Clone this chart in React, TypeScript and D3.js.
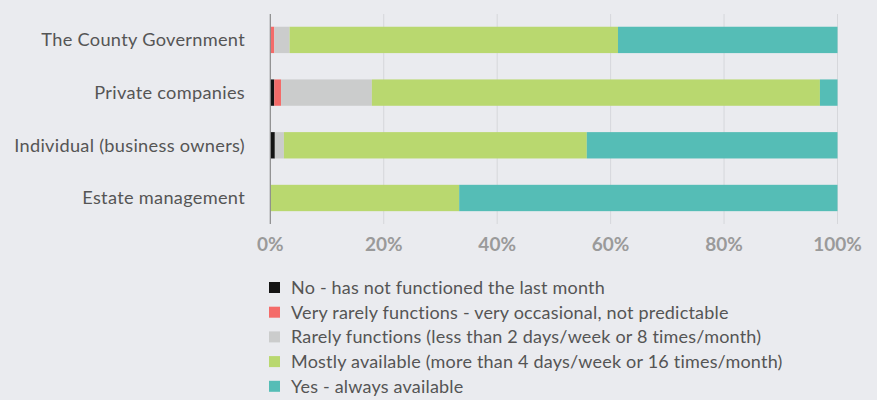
import { useEffect, useRef } from "react";
import * as d3 from "d3";

// categories (top to bottom)
const categories = [
  "The County Government",
  "Private companies",
  "Individual (business owners)",
  "Estate management",
];

// series labels, in stacking order
const seriesNames = [
  "No - has not functioned the last month",
  "Very rarely functions - very occasional, not predictable",
  "Rarely functions (less than 2 days/week or 8 times/month)",
  "Mostly available (more than 4 days/week or 16 times/month)",
  "Yes - always available",
];

// percentages per series, one value per category
const noFunction = [0, 0.7, 0.8, 0];
const veryRarely = [0.7, 1.2, 0, 0];
const rarely = [2.7, 16.0, 1.6, 0];
const mostly = [57.9, 79.0, 53.4, 33.3];
const always = [38.7, 3.1, 44.2, 66.7];

const tickValues = [0, 20, 40, 60, 80, 100];

const colors = ["#141414", "#F46B69", "#CBCCCC", "#B9D86F", "#55BDB6"];

export default function App() {
  const ref = useRef<SVGSVGElement>(null);

  useEffect(() => {
    if (!ref.current) return;
    const svg = d3.select(ref.current);
    svg.selectAll("*").remove();

    const width = 877;
    const height = 400;
    const font = "Lato, 'Noto Sans', sans-serif";

    svg.append("rect").attr("width", width).attr("height", height).attr("fill", "#EAEBEF");

    const x = d3.scaleLinear().domain([0, 100]).range([270.3, 837.5]);
    const y = d3.scaleBand<string>().domain(categories).range([0.4, 237.5]).paddingInner(0.5).paddingOuter(0.5);

    // build rows for the stack
    const rows = categories.map((c, i) => {
      const r: any = { category: c };
      const vals = [noFunction, veryRarely, rarely, mostly, always];
      seriesNames.forEach((s, k) => (r[s] = vals[k][i]));
      return r;
    });
    const stacked = d3.stack<any>().keys(seriesNames)(rows);

    // gridlines
    svg.append("g")
      .selectAll("line")
      .data(tickValues.slice(1))
      .join("line")
      .attr("x1", d => x(d))
      .attr("x2", d => x(d))
      .attr("y1", 14)
      .attr("y2", 224)
      .attr("stroke", "#D6D7DB")
      .attr("stroke-width", 1);

    // bars
    svg.append("g")
      .selectAll("g")
      .data(stacked)
      .join("g")
      .attr("fill", (_, i) => colors[i])
      .selectAll("rect")
      .data(d => d)
      .join("rect")
      .attr("x", d => x(d[0]))
      .attr("width", d => Math.max(0, x(d[1]) - x(d[0])))
      .attr("y", d => y(d.data.category)!)
      .attr("height", y.bandwidth());

    // y axis line
    svg.append("line")
      .attr("x1", x(0)).attr("x2", x(0))
      .attr("y1", 14).attr("y2", 224)
      .attr("stroke", "#8A8A8A")
      .attr("stroke-width", 1.2);

    // category labels
    svg.append("g")
      .selectAll("text")
      .data(categories)
      .join("text")
      .attr("x", 245)
      .attr("y", d => y(d)! + y.bandwidth() / 2)
      .attr("dy", "0.35em")
      .attr("text-anchor", "end")
      .attr("font-family", font)
      .attr("font-size", 18.2)
      .attr("letter-spacing", 0.3)
      .attr("fill", "#555555")
      .text(d => d);

    // tick labels
    svg.append("g")
      .selectAll("text")
      .data(tickValues)
      .join("text")
      .attr("x", d => x(d))
      .attr("y", 250.5)
      .attr("text-anchor", "middle")
      .attr("font-family", font)
      .attr("font-weight", "bold")
      .attr("font-size", 19)
      .attr("fill", "#9A9A9A")
      .text(d => `${d}%`);

    // legend
    const legend = svg.append("g")
      .selectAll("g")
      .data(seriesNames)
      .join("g")
      .attr("transform", (_, i) => `translate(269, ${287.5 + i * 24.7})`);
    legend.append("rect")
      .attr("x", 0)
      .attr("y", -5.5)
      .attr("width", 11)
      .attr("height", 11)
      .attr("fill", (_, i) => colors[i]);
    legend.append("text")
      .attr("x", 22)
      .attr("dy", "0.35em")
      .attr("font-family", font)
      .attr("font-size", 18)
      .attr("letter-spacing", 0.2)
      .attr("fill", "#555555")
      .text(d => d);
  }, []);

  return (
    <svg
      ref={ref}
      width={877}
      height={400}
      style={{ position: "absolute", left: 0, top: 0 }}
    />
  );
}
